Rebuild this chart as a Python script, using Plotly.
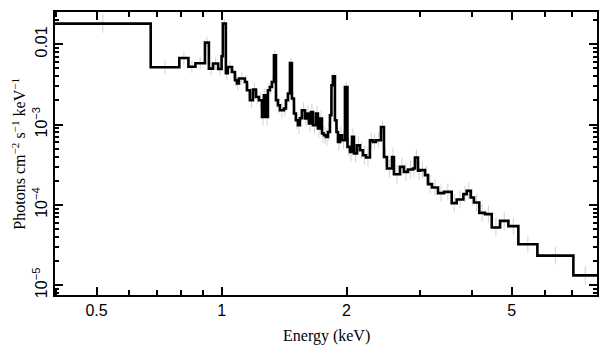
import numpy as np
import plotly.graph_objects as go

# Bin edges (keV) of the stepped spectrum
bin_edges = [0.397, 0.675, 0.791, 0.832, 0.865, 0.912, 0.932, 0.954, 0.981, 1.000,
             1.007, 1.024, 1.035, 1.059, 1.077, 1.089, 1.101, 1.138, 1.151, 1.170,
             1.190, 1.210, 1.230, 1.251, 1.264, 1.279, 1.293, 1.307, 1.322, 1.337,
             1.352, 1.367, 1.382, 1.413, 1.429, 1.445, 1.461, 1.477, 1.494, 1.510,
             1.527, 1.544, 1.561, 1.588, 1.605, 1.623, 1.641, 1.660, 1.688, 1.706,
             1.725, 1.745, 1.764, 1.784, 1.804, 1.824, 1.839, 1.854, 1.875, 1.891,
             1.907, 1.928, 1.950, 1.982, 2.010, 2.038, 2.061, 2.084, 2.118, 2.154,
             2.190, 2.227, 2.277, 2.315, 2.354, 2.420, 2.461, 2.502, 2.573, 2.601,
             2.689, 2.749, 2.811, 2.890, 2.922, 2.972, 3.005, 3.090, 3.142, 3.212,
             3.321, 3.433, 3.583, 3.684, 3.822, 3.894, 3.981, 4.054, 4.175, 4.310,
             4.474, 4.685, 4.906, 5.185, 5.762, 7.035, 8.02]

# Flux per bin (photons cm^-2 s^-1 keV^-1)
flux = [0.01810, 0.005175, 0.006755, 0.005250, 0.005801, 0.01050, 0.004985, 0.005754, 0.004928, 0.007090,
        0.01810, 0.004357, 0.005220, 0.004522, 0.003566, 0.003244, 0.003745, 0.003397, 0.002679, 0.002011,
        0.002733, 0.002211, 0.002011, 0.001246, 0.002321, 0.001246, 0.002679, 0.002943, 0.003397, 0.007297,
        0.002011, 0.001743, 0.001510, 0.001586, 0.002011, 0.002436, 0.005852, 0.002112, 0.001374, 0.001134,
        0.000983, 0.001201, 0.001510, 0.001191, 0.001374, 0.001032, 0.001438, 0.000983, 0.001374, 0.000894,
        0.001191, 0.000775, 0.000738, 0.000703, 0.000811, 0.001309, 0.003090, 0.003999, 0.001134, 0.000811,
        0.000609, 0.000738, 0.000640, 0.002943, 0.000528, 0.000457, 0.000703, 0.000437, 0.000554, 0.000480,
        0.000416, 0.000390, 0.000640, 0.000609, 0.000640, 0.000936, 0.000396, 0.000284, 0.000396, 0.0002415,
        0.000298, 0.000258, 0.000276, 0.000284, 0.000390, 0.000267, 0.000271, 0.000235, 0.0001815, 0.000165,
        0.0001402, 0.0001455, 0.0001053, 0.0001171, 0.0001362, 0.0001498, 0.0001240, 0.0001074, 0.0000797, 0.0000768,
        0.0000525, 0.0000634, 0.0000545, 0.0000324, 0.0000234, 0.0000133]

# Fractional 1-sigma errors of the data points
err_frac = [0.30, 0.22, 0.20, 0.20, 0.20, 0.18, 0.20, 0.20, 0.20, 0.20,
            0.15, 0.20, 0.20, 0.20, 0.22, 0.22, 0.20, 0.22, 0.22, 0.25,
            0.22, 0.22, 0.25, 0.28, 0.22, 0.28, 0.22, 0.22, 0.20, 0.15,
            0.25, 0.25, 0.25, 0.25, 0.22, 0.22, 0.15, 0.22, 0.25, 0.28,
            0.28, 0.25, 0.25, 0.25, 0.25, 0.28, 0.25, 0.28, 0.25, 0.28,
            0.25, 0.28, 0.28, 0.28, 0.28, 0.22, 0.15, 0.12, 0.25, 0.28,
            0.30, 0.28, 0.28, 0.15, 0.30, 0.30, 0.28, 0.30, 0.28, 0.28,
            0.30, 0.30, 0.25, 0.25, 0.25, 0.20, 0.30, 0.30, 0.30, 0.30,
            0.30, 0.30, 0.30, 0.30, 0.25, 0.30, 0.28, 0.30, 0.30, 0.28,
            0.28, 0.28, 0.30, 0.30, 0.28, 0.28, 0.28, 0.30, 0.30, 0.28,
            0.30, 0.30, 0.28, 0.28, 0.28, 0.30]

x_major = [0.5, 1, 2, 5]
x_major_text = ["0.5", "1", "2", "5"]
x_minor = [0.4, 0.6, 0.7, 0.8, 0.9, 3, 4, 6, 7]
y_major = [1e-5, 1e-4, 1e-3, 1e-2]
y_major_text = ["10<sup>\u22125</sup>", "10<sup>\u22124</sup>", "10<sup>\u22123</sup>", "0.01"]
y_minor = [8e-6, 9e-6] + [k * 10.0 ** e for e in (-5, -4, -3) for k in range(2, 10)] + [0.02]

edges = np.array(bin_edges)
fl = np.array(flux)
centers = np.sqrt(edges[:-1] * edges[1:])
ef = np.array(err_frac)

fig = go.Figure()
fig.add_trace(go.Scatter(
    x=centers, y=fl, mode="markers",
    marker=dict(size=1, color="rgba(0,0,0,0)"),
    error_y=dict(type="data", symmetric=False, array=fl * ef, arrayminus=fl * ef / (1 + ef),
                 color="#d2d2d2", thickness=1, width=0),
    showlegend=False, hoverinfo="skip"))
fig.add_trace(go.Scatter(
    x=list(edges), y=list(fl) + [fl[-1]], mode="lines",
    line=dict(shape="hv", color="black", width=2.6),
    showlegend=False))

tickfont = dict(family="Liberation Sans, Arial, sans-serif", size=16, color="black")
fig.update_xaxes(
    type="log", range=[np.log10(0.397), np.log10(8.02)], automargin=False,
    tickmode="array", tickvals=x_major, ticktext=x_major_text,
    ticks="inside", ticklen=8, tickwidth=1.5, tickcolor="black",
    showline=True, linewidth=2, linecolor="black", mirror="ticks",
    showgrid=False, zeroline=False, tickfont=tickfont,
    minor=dict(tickmode="array", tickvals=x_minor, ticks="inside", ticklen=5,
               tickwidth=1.5, tickcolor="black", showgrid=False))
fig.update_yaxes(
    type="log", range=[-5.121, -1.598], automargin=False,
    tickmode="array", tickvals=y_major, ticktext=y_major_text, tickangle=-90,
    ticks="inside", ticklen=8, tickwidth=1.5, tickcolor="black",
    showline=True, linewidth=2, linecolor="black", mirror="ticks",
    showgrid=False, zeroline=False, tickfont=tickfont,
    minor=dict(tickmode="array", tickvals=y_minor, ticks="inside", ticklen=4,
               tickwidth=1.5, tickcolor="black", showgrid=False))

serif = dict(family="Liberation Serif, Times New Roman, serif", size=16, color="black")
fig.update_layout(
    width=601, height=349,
    margin=dict(l=47, r=12, t=4, b=62),
    paper_bgcolor="white", plot_bgcolor="white",
    annotations=[
        dict(text="Energy (keV)", xref="paper", yref="paper", x=0.5, y=-0.145,
             xanchor="center", yanchor="middle", showarrow=False, font=serif),
        dict(text="Photons cm<sup>\u22122</sup> s<sup>\u22121</sup> keV<sup>\u22121</sup>",
             xref="paper", yref="paper", x=-0.068, y=0.5, textangle=-90,
             xanchor="center", yanchor="middle", showarrow=False, font=serif),
    ])

fig.write_html("out.html")
